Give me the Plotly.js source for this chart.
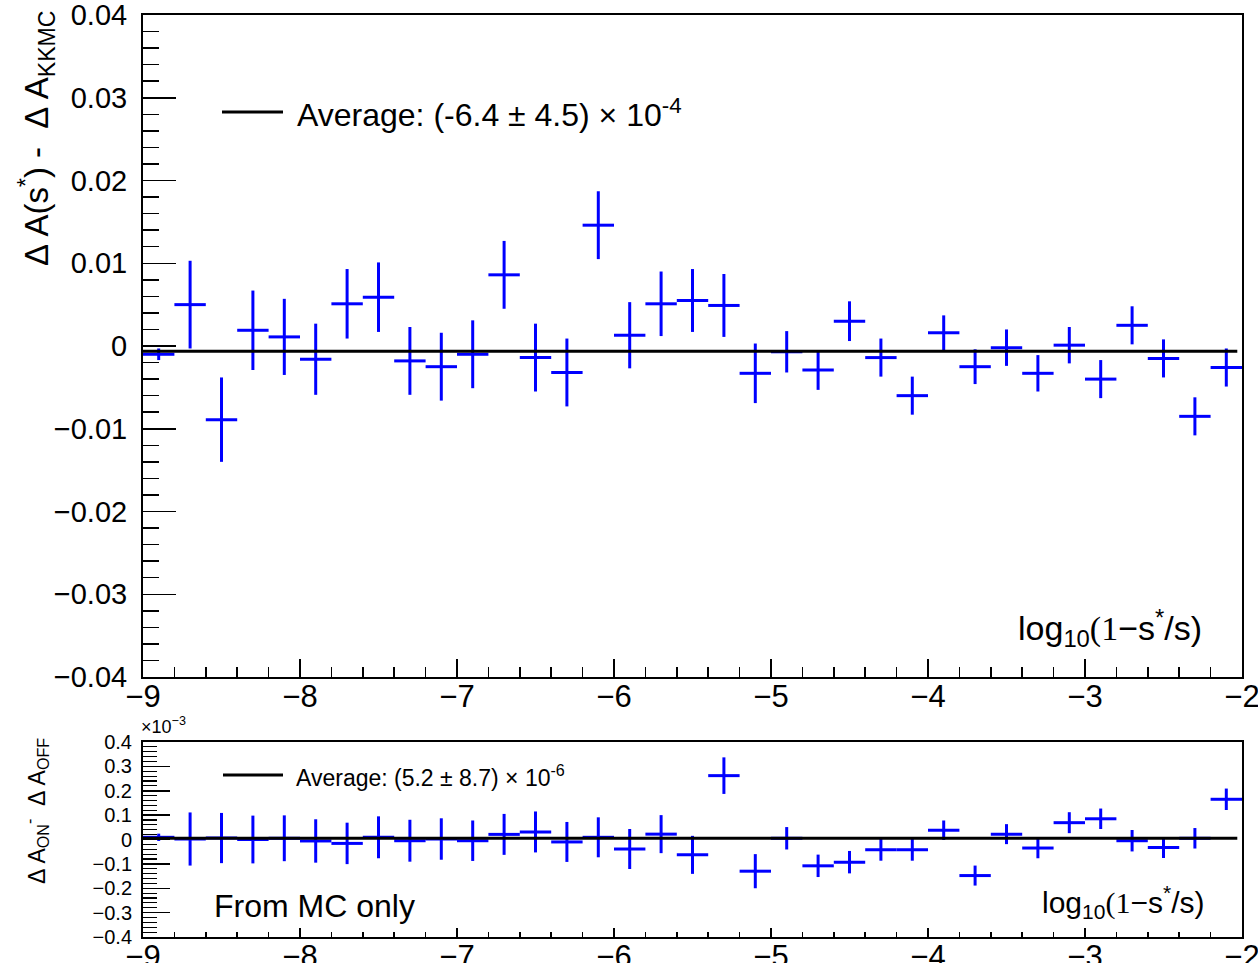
<!DOCTYPE html>
<html>
<head>
<meta charset="utf-8">
<script src="https://cdn.plot.ly/plotly-3.0.1.min.js"></script>
<style>html,body{margin:0;padding:0;background:#fff;}#chart{width:1258px;height:963px;}</style>
</head>
<body>
<div id="chart"></div>
<script>
// Bin centres of log10(1 - s*/s)
var binCenters = [-8.9,-8.7,-8.5,-8.3,-8.1,-7.9,-7.7,-7.5,-7.3,-7.1,-6.9,-6.7,-6.5,-6.3,-6.1,-5.9,-5.7,-5.5,-5.3,-5.1,-4.9,-4.7,-4.5,-4.3,-4.1,-3.9,-3.7,-3.5,-3.3,-3.1,-2.9,-2.7,-2.5,-2.3,-2.1];
var binHalfWidth = 0.1;

// Top panel: ΔA(s*) - ΔA_KKMC
var topValues = [-0.0010, 0.0050, -0.0089, 0.0019, 0.0011, -0.0016, 0.0051, 0.0059, -0.0018, -0.0025, -0.0010, 0.0086, -0.0014, -0.0032, 0.0146, 0.0013, 0.0051, 0.0055, 0.0049, -0.0033, -0.0007, -0.0029, 0.0030, -0.0014, -0.0060, 0.0016, -0.0025, -0.0002, -0.0033, 0.0001, -0.0040, 0.0025, -0.0015, -0.0085, -0.0026];
var topErrors = [0.0007, 0.0053, 0.0051, 0.0048, 0.0046, 0.0043, 0.0042, 0.0042, 0.0041, 0.0041, 0.0041, 0.0041, 0.0041, 0.0041, 0.0041, 0.0040, 0.0039, 0.0038, 0.0038, 0.0036, 0.0025, 0.0024, 0.0024, 0.0023, 0.0023, 0.0021, 0.0021, 0.0022, 0.0022, 0.0022, 0.0023, 0.0023, 0.0023, 0.0023, 0.0023];
var topAverage = -6.4e-4;

// Bottom panel: ΔA_ON - ΔA_OFF, in units of 1e-3
var bottomValues = [0.009, 0.002, 0.006, 0.000, 0.005, -0.006, -0.016, 0.009, -0.005, 0.002, -0.005, 0.021, 0.031, -0.010, 0.009, -0.039, 0.022, -0.063, 0.262, -0.130, 0.005, -0.108, -0.093, -0.042, -0.042, 0.038, -0.148, 0.022, -0.035, 0.069, 0.085, -0.005, -0.033, 0.005, 0.165];
var bottomErrors = [0.015, 0.109, 0.103, 0.098, 0.094, 0.089, 0.085, 0.086, 0.086, 0.085, 0.083, 0.084, 0.084, 0.082, 0.082, 0.082, 0.078, 0.078, 0.075, 0.070, 0.046, 0.046, 0.046, 0.045, 0.045, 0.040, 0.041, 0.041, 0.042, 0.043, 0.042, 0.044, 0.043, 0.042, 0.044];
var bottomAverage = 5.2e-3; // 5.2e-6 expressed in units of 1e-3

var xTickVals = [-9,-8,-7,-6,-5,-4,-3,-2];

var W = 1258, H = 963;
function px(x){return x / W;}
function py(y){return 1 - y / H;}
var FONT = 'Liberation Sans, Arial, Helvetica, sans-serif';
var BLUE = '#0000ff';

var traces = [
  {
    x: binCenters, y: topValues, xaxis: 'x', yaxis: 'y',
    type: 'scatter', mode: 'markers',
    marker: {size: 1, color: BLUE},
    error_y: {type: 'data', array: topErrors, visible: true, width: 0, thickness: 3, color: BLUE},
    error_x: {type: 'constant', value: binHalfWidth, visible: true, width: 0, thickness: 3, color: BLUE},
    showlegend: false, hoverinfo: 'skip'
  },
  {
    x: binCenters, y: bottomValues, xaxis: 'x2', yaxis: 'y2',
    type: 'scatter', mode: 'markers',
    marker: {size: 1, color: BLUE},
    error_y: {type: 'data', array: bottomErrors, visible: true, width: 0, thickness: 3, color: BLUE},
    error_x: {type: 'constant', value: binHalfWidth, visible: true, width: 0, thickness: 3, color: BLUE},
    showlegend: false, hoverinfo: 'skip'
  }
];

function xAxis(anchor, fontSize, majorLen, minorLen){
  return {
    domain: [px(143), px(1242)], anchor: anchor,
    range: [-9, -2], tickvals: xTickVals,
    ticks: 'inside', ticklen: majorLen, tickwidth: 1.5, tickcolor: '#000',
    showline: true, linecolor: '#000', linewidth: 2, mirror: true,
    showgrid: false, zeroline: false,
    ticklabeloverflow: 'allow', ticklabelstandoff: -9,
    tickfont: {family: FONT, size: fontSize, color: '#000'},
    minor: {dtick: 0.2, ticks: 'inside', ticklen: minorLen, tickwidth: 1.5, tickcolor: '#000', showgrid: false}
  };
}

var layout = {
  width: W, height: H,
  margin: {l: 0, r: 0, t: 0, b: 0},
  paper_bgcolor: '#fff', plot_bgcolor: '#fff',
  font: {family: FONT, color: '#000'},
  showlegend: false,
  xaxis: xAxis('y', 31, 18, 10),
  xaxis2: xAxis('y2', 31, 9, 5),
  yaxis: {
    domain: [py(677), py(15)], anchor: 'x',
    range: [-0.04, 0.04], dtick: 0.01, tick0: 0,
    ticks: 'inside', ticklen: 33, tickwidth: 1.5, tickcolor: '#000',
    showline: true, linecolor: '#000', linewidth: 2, mirror: true,
    showgrid: false, zeroline: false, ticklabelstandoff: 8, ticklabeloverflow: 'allow',
    tickfont: {family: FONT, size: 29, color: '#000'},
    minor: {dtick: 0.002, ticks: 'inside', ticklen: 16, tickwidth: 1.5, tickcolor: '#000', showgrid: false}
  },
  yaxis2: {
    domain: [py(937), py(742)], anchor: 'x2',
    range: [-0.4, 0.4], dtick: 0.1, tick0: 0,
    ticks: 'inside', ticklen: 27, tickwidth: 1.5, tickcolor: '#000',
    showline: true, linecolor: '#000', linewidth: 2, mirror: true,
    showgrid: false, zeroline: false, ticklabelstandoff: 5, ticklabeloverflow: 'allow',
    tickfont: {family: FONT, size: 20, color: '#000'},
    minor: {dtick: 0.02, ticks: 'inside', ticklen: 14, tickwidth: 1.2, tickcolor: '#000', showgrid: false}
  },
  shapes: [
    {type: 'line', xref: 'x', yref: 'y', x0: -9, x1: -2.03, y0: topAverage, y1: topAverage, line: {color: '#000', width: 3}},
    {type: 'line', xref: 'x2', yref: 'y2', x0: -9, x1: -2.03, y0: bottomAverage, y1: bottomAverage, line: {color: '#000', width: 3}},
    {type: 'line', xref: 'paper', yref: 'paper', x0: px(222), x1: px(283), y0: py(112), y1: py(112), line: {color: '#000', width: 3}},
    {type: 'line', xref: 'paper', yref: 'paper', x0: px(223), x1: px(283), y0: py(775), y1: py(775), line: {color: '#000', width: 3}}
  ],
  annotations: [
    {xref: 'paper', yref: 'paper', x: px(36), y: py(8), xanchor: 'center', yanchor: 'top', textangle: -90, showarrow: false,
     text: 'Δ A(s<sup>*</sup>) -  Δ A<sub>KKMC</sub>', font: {family: FONT, size: 33, color: '#000'}},
    {xref: 'paper', yref: 'paper', x: px(36), y: py(736), xanchor: 'center', yanchor: 'top', textangle: -90, showarrow: false,
     text: 'Δ A<sub>ON</sub><sup>-</sup>  Δ A<sub>OFF</sub>', font: {family: FONT, size: 23, color: '#000'}},
    {xref: 'paper', yref: 'paper', x: px(295), y: py(113), xanchor: 'left', yanchor: 'middle', showarrow: false,
     text: 'Average: (-6.4 ± 4.5) × 10<sup>-4</sup>', font: {family: FONT, size: 32, color: '#000'}},
    {xref: 'paper', yref: 'paper', x: px(294), y: py(776), xanchor: 'left', yanchor: 'middle', showarrow: false,
     text: 'Average: (5.2 ± 8.7) × 10<sup>-6</sup>', font: {family: FONT, size: 23, color: '#000'}},
    {xref: 'paper', yref: 'paper', x: px(212), y: py(906), xanchor: 'left', yanchor: 'middle', showarrow: false,
     text: 'From MC only', font: {family: FONT, size: 32, color: '#000'}},
    {xref: 'paper', yref: 'paper', x: px(1204), y: py(628), xanchor: 'right', yanchor: 'middle', showarrow: false,
     text: 'log<sub>10</sub><span style="font-family:Liberation Serif, Times New Roman, serif">(1</span>−s<sup>*</sup>/s)', font: {family: FONT, size: 34, color: '#000'}},
    {xref: 'paper', yref: 'paper', x: px(1206), y: py(902), xanchor: 'right', yanchor: 'middle', showarrow: false,
     text: 'log<sub>10</sub><span style="font-family:Liberation Serif, Times New Roman, serif">(1</span>−s<sup>*</sup>/s)', font: {family: FONT, size: 30, color: '#000'}},
    {xref: 'paper', yref: 'paper', x: px(139), y: py(739), xanchor: 'left', yanchor: 'bottom', showarrow: false,
     text: '×10<sup>−3</sup>', font: {family: FONT, size: 18, color: '#000'}}
  ]
};

Plotly.newPlot('chart', traces, layout, {staticPlot: true, displayModeBar: false});
</script>
</body>
</html>
